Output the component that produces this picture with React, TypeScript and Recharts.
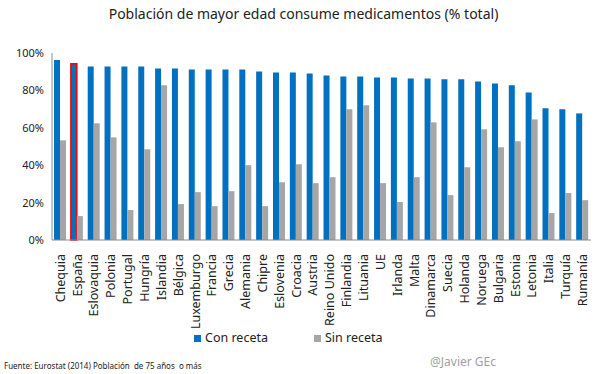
import { Bar, BarChart, Cell, Legend, XAxis, YAxis } from "recharts";

const countries = [
  "Chequia", "España", "Eslovaquia", "Polonia", "Portugal", "Hungría", "Islandia",
  "Bélgica", "Luxemburgo", "Francia", "Grecia", "Alemania", "Chipre", "Eslovenia",
  "Croacia", "Austria", "Reino Unido", "Finlandia", "Lituania", "UE", "Irlanda",
  "Malta", "Dinamarca", "Suecia", "Holanda", "Noruega", "Bulgaria", "Estonia",
  "Letonia", "Italia", "Turquía", "Rumanía",
];

const conReceta = [
  96.2, 94.2, 92.8, 92.8, 92.8, 92.8, 91.7, 91.7, 91.2, 91.2, 91.2, 91.2, 90.1, 89.6,
  89.6, 89.1, 88.0, 87.5, 87.5, 86.9, 86.9, 86.4, 86.4, 85.9, 85.9, 84.8, 83.7, 82.7,
  78.9, 70.4, 69.9, 67.7,
];

const sinReceta = [
  53.3, 12.8, 62.4, 54.9, 16.0, 48.5, 82.7, 19.2, 25.6, 18.1, 26.1, 40.0, 18.1, 30.9,
  40.5, 30.4, 33.6, 69.9, 72.0, 30.4, 20.3, 33.6, 62.9, 24.0, 38.9, 59.2, 49.6, 52.8,
  64.5, 14.4, 25.1, 21.3,
];

const yTicks = [0, 20, 40, 60, 80, 100];

const data = countries.map((name, i) => ({
  name,
  con: conReceta[i],
  sin: sinReceta[i],
}));

const FONT = "'Century Gothic', 'Noto Sans', sans-serif";

const CountryTick = ({ x, y, payload }: any) => (
  <g transform={`translate(${x},${y})`}>
    <text
      transform="rotate(-90)"
      x={-6}
      dy="0.35em"
      textAnchor="end"
      fontSize={12.5}
      fontFamily={FONT}
      fill="#222"
    >
      {payload.value}
    </text>
  </g>
);

export default function App() {
  return (
    <div style={{ position: "absolute", left: 0, top: 0, width: 607, height: 374, background: "#fff", fontFamily: FONT }}>
      <div style={{ position: "absolute", top: 4, width: 607, textAlign: "center", fontSize: 14, color: "#222" }}>
        Población de mayor edad consume medicamentos (% total)
      </div>
      <BarChart
        width={607}
        height={374}
        data={data}
        margin={{ top: 53, right: 16, left: 0, bottom: 55 }}
        barCategoryGap="12%"
        barGap={0}
      >
        <XAxis
          dataKey="name"
          interval={0}
          tick={<CountryTick />}
          tickLine={false}
          height={62}
          axisLine={{ stroke: "#8c8c8c" }}
        />
        <YAxis
          width={52}
          domain={[0, 100]}
          ticks={yTicks}
          tickFormatter={(v: number) => `${v}%`}
          tickLine={false}
          axisLine={{ stroke: "#8c8c8c" }}
          tick={{ fontSize: 11, fill: "#222", fontFamily: FONT }}
        />
        <Legend
          verticalAlign="bottom"
          align="left"
          iconType="square"
          iconSize={7}
          wrapperStyle={{ top: 329, left: 194, width: 260, fontSize: 12.5, fontFamily: FONT }}
          formatter={(value: string) => <span style={{ color: "#222", marginRight: 36 }}>{value}</span>}
        />
        <Bar dataKey="con" name="Con receta" fill="#0070C0" isAnimationActive={false}>
          {data.map((d) => (
            <Cell
              key={d.name}
              stroke={d.name === "España" ? "#ff0000" : "none"}
              strokeWidth={d.name === "España" ? 1.5 : 0}
            />
          ))}
        </Bar>
        <Bar dataKey="sin" name="Sin receta" fill="#A6A6A6" isAnimationActive={false} />
      </BarChart>
      <div style={{ position: "absolute", left: 4, top: 360, fontSize: 8, color: "#222" }}>
        Fuente: Eurostat (2014) Población&nbsp; de 75 años&nbsp; o más
      </div>
      <div style={{ position: "absolute", left: 430, top: 353, fontSize: 12, color: "#a0a0a0" }}>
        @Javier GEc
      </div>
    </div>
  );
}
